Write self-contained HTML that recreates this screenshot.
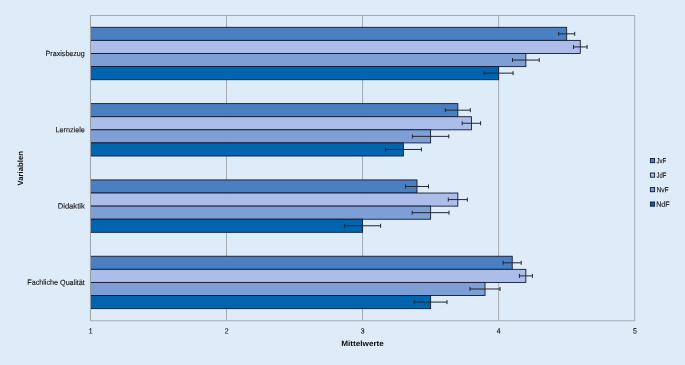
<!DOCTYPE html>
<html lang="de"><head><meta charset="utf-8"><title>Mittelwerte</title>
<style>html,body{margin:0;padding:0;background:#deebf8;}body{width:685px;height:365px;overflow:hidden;}svg{display:block;font-family:"Liberation Sans",sans-serif;}</style></head><body>
<svg width="685" height="365" viewBox="0 0 685 365" text-rendering="geometricPrecision">
<rect x="0" y="0" width="685" height="365" fill="#deebf8"/>
<g stroke="#a5abb3" stroke-width="1" fill="none">
<rect x="90.45" y="15.5" width="544.25" height="305.25"/>
<line x1="226.51" y1="15.5" x2="226.51" y2="320.75"/>
<line x1="362.57" y1="15.5" x2="362.57" y2="320.75"/>
<line x1="498.64" y1="15.5" x2="498.64" y2="320.75"/>
</g>
<g stroke="#111c36" stroke-width="0.9">
<rect x="90.45" y="27.30" width="476.22" height="13.1" fill="#4a7fc1"/>
<rect x="90.45" y="40.40" width="489.82" height="13.1" fill="#abbde8"/>
<rect x="90.45" y="53.50" width="435.40" height="13.1" fill="#7d9fd6"/>
<rect x="90.45" y="66.60" width="408.19" height="13.1" fill="#0065ae"/>
<rect x="90.45" y="103.61" width="367.37" height="13.1" fill="#4a7fc1"/>
<rect x="90.45" y="116.71" width="380.97" height="13.1" fill="#abbde8"/>
<rect x="90.45" y="129.81" width="340.16" height="13.1" fill="#7d9fd6"/>
<rect x="90.45" y="142.91" width="312.94" height="13.1" fill="#0065ae"/>
<rect x="90.45" y="179.93" width="326.55" height="13.1" fill="#4a7fc1"/>
<rect x="90.45" y="193.03" width="367.37" height="13.1" fill="#abbde8"/>
<rect x="90.45" y="206.12" width="340.16" height="13.1" fill="#7d9fd6"/>
<rect x="90.45" y="219.23" width="272.12" height="13.1" fill="#0065ae"/>
<rect x="90.45" y="256.24" width="421.79" height="13.1" fill="#4a7fc1"/>
<rect x="90.45" y="269.34" width="435.40" height="13.1" fill="#abbde8"/>
<rect x="90.45" y="282.44" width="394.58" height="13.1" fill="#7d9fd6"/>
<rect x="90.45" y="295.54" width="340.16" height="13.1" fill="#0065ae"/>
</g>
<line x1="90.45" y1="15.5" x2="90.45" y2="320.75" stroke="#a0a6ae" stroke-width="1"/>
<g stroke="#23262e" stroke-width="1" fill="none">
<path d="M558.7 33.85H574.7M558.7 31.85v4M574.7 31.85v4"/>
<path d="M573.5 46.95H587.1M573.5 44.95v4M587.1 44.95v4"/>
<path d="M512.5 60.05H539.2M512.5 58.05v4M539.2 58.05v4"/>
<path d="M484.1 73.15H513.1M484.1 71.15v4M513.1 71.15v4"/>
<path d="M445.3 110.16H470.3M445.3 108.16v4M470.3 108.16v4"/>
<path d="M462.2 123.26H480.6M462.2 121.26v4M480.6 121.26v4"/>
<path d="M412.4 136.36H448.8M412.4 134.36v4M448.8 134.36v4"/>
<path d="M385.4 149.46H421.4M385.4 147.46v4M421.4 147.46v4"/>
<path d="M405.5 186.48H428.5M405.5 184.48v4M428.5 184.48v4"/>
<path d="M448.3 199.58H467.3M448.3 197.58v4M467.3 197.58v4"/>
<path d="M412.2 212.68H449.0M412.2 210.68v4M449.0 210.68v4"/>
<path d="M344.6 225.78H380.6M344.6 223.78v4M380.6 223.78v4"/>
<path d="M503.2 262.79H521.2M503.2 260.79v4M521.2 260.79v4"/>
<path d="M519.4 275.89H532.4M519.4 273.89v4M532.4 273.89v4"/>
<path d="M470.0 288.99H500.0M470.0 286.99v4M500.0 286.99v4"/>
<path d="M414.2 302.09H447.0M414.2 300.09v4M447.0 300.09v4"/>
</g>
<g font-size="7.5" fill="#141414" stroke="#141414" stroke-width="0.12">
<text transform="rotate(0.2 65.2 56.0)" x="45.60" y="55.96" textLength="39.20" lengthAdjust="spacingAndGlyphs">Praxisbezug</text>
<text transform="rotate(0.2 70.2 132.3)" x="55.60" y="132.27" textLength="29.20" lengthAdjust="spacingAndGlyphs">Lernziele</text>
<text transform="rotate(0.2 71.2 208.6)" x="57.70" y="208.58" textLength="27.10" lengthAdjust="spacingAndGlyphs">Didaktik</text>
<text transform="rotate(0.2 56.1 284.9)" x="27.30" y="284.89" textLength="57.50" lengthAdjust="spacingAndGlyphs">Fachliche Qualität</text>
</g>
<g font-size="7.5" fill="#141414" stroke="#141414" stroke-width="0.12">
<text transform="rotate(0.2 90.5 333.5)" x="88.65" y="333.50" textLength="3.80" lengthAdjust="spacingAndGlyphs">1</text>
<text transform="rotate(0.2 226.6 333.5)" x="224.71" y="333.50" textLength="3.80" lengthAdjust="spacingAndGlyphs">2</text>
<text transform="rotate(0.2 362.7 333.5)" x="360.78" y="333.50" textLength="3.80" lengthAdjust="spacingAndGlyphs">3</text>
<text transform="rotate(0.2 498.7 333.5)" x="496.84" y="333.50" textLength="3.80" lengthAdjust="spacingAndGlyphs">4</text>
<text transform="rotate(0.2 634.8 333.5)" x="632.90" y="333.50" textLength="3.80" lengthAdjust="spacingAndGlyphs">5</text>
</g>
<g font-size="7.7" font-weight="bold" fill="#0c0c0c">
<text transform="rotate(0.2 362.6 346.0)" x="341.20" y="346.00" textLength="42.70" lengthAdjust="spacingAndGlyphs">Mittelwerte</text>
<g transform="translate(23.2 185) rotate(-90)"><text x="-0.4" y="0" textLength="34.3" lengthAdjust="spacingAndGlyphs">Variablen</text></g>
</g>
<g font-size="7.5" fill="#141414" stroke="#141414" stroke-width="0.12">
<rect x="650.4" y="158.5" width="4.2" height="4.2" fill="#4a7fc1" stroke="#111c36" stroke-width="0.9"/>
<text transform="rotate(0.2 661.4 163.2)" x="656.60" y="163.20" textLength="9.60" lengthAdjust="spacingAndGlyphs">JvF</text>
<rect x="650.4" y="173.0" width="4.2" height="4.2" fill="#abbde8" stroke="#111c36" stroke-width="0.9"/>
<text transform="rotate(0.2 661.5 177.7)" x="656.60" y="177.70" textLength="9.80" lengthAdjust="spacingAndGlyphs">JdF</text>
<rect x="650.4" y="187.5" width="4.2" height="4.2" fill="#7d9fd6" stroke="#111c36" stroke-width="0.9"/>
<text transform="rotate(0.2 662.5 192.2)" x="656.40" y="192.20" textLength="12.30" lengthAdjust="spacingAndGlyphs">NvF</text>
<rect x="650.4" y="202.0" width="4.2" height="4.2" fill="#0065ae" stroke="#111c36" stroke-width="0.9"/>
<text transform="rotate(0.2 663.0 206.7)" x="656.20" y="206.70" textLength="13.50" lengthAdjust="spacingAndGlyphs">NdF</text>
</g>
</svg></body></html>
